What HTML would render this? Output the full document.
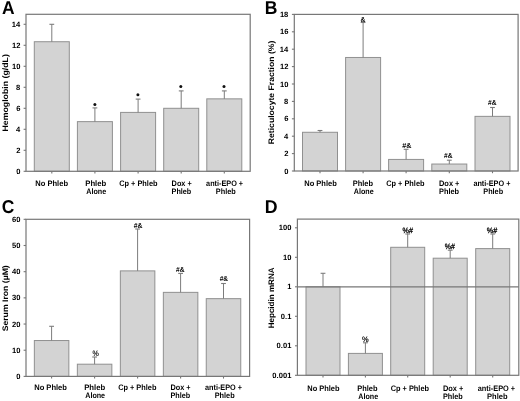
<!DOCTYPE html><html><head><meta charset="utf-8"><style>html,body{margin:0;padding:0;background:#fff;overflow:hidden}svg{display:block;will-change:transform}text{font-family:"Liberation Sans",sans-serif;text-rendering:geometricPrecision}</style></head><body>
<svg width="520" height="401" viewBox="0 0 520 401">
<rect width="520" height="401" fill="#fff"/>
<rect x="34.30" y="41.73" width="35.00" height="129.57" fill="#d3d3d3" stroke="#909090" stroke-width="1"/>
<line x1="51.80" y1="41.73" x2="51.80" y2="24.30" stroke="#7c7c7c" stroke-width="1.0"/>
<line x1="49.40" y1="24.30" x2="54.20" y2="24.30" stroke="#7c7c7c" stroke-width="1.1"/>
<rect x="77.40" y="121.64" width="35.00" height="49.67" fill="#d3d3d3" stroke="#909090" stroke-width="1"/>
<line x1="94.90" y1="121.64" x2="94.90" y2="107.90" stroke="#7c7c7c" stroke-width="1.0"/>
<line x1="92.50" y1="107.90" x2="97.30" y2="107.90" stroke="#7c7c7c" stroke-width="1.1"/>
<rect x="120.60" y="112.40" width="35.00" height="58.91" fill="#d3d3d3" stroke="#909090" stroke-width="1"/>
<line x1="138.10" y1="112.40" x2="138.10" y2="99.10" stroke="#7c7c7c" stroke-width="1.0"/>
<line x1="135.70" y1="99.10" x2="140.50" y2="99.10" stroke="#7c7c7c" stroke-width="1.1"/>
<rect x="163.70" y="108.30" width="35.00" height="63.00" fill="#d3d3d3" stroke="#909090" stroke-width="1"/>
<line x1="181.20" y1="108.30" x2="181.20" y2="90.90" stroke="#7c7c7c" stroke-width="1.0"/>
<line x1="178.80" y1="90.90" x2="183.60" y2="90.90" stroke="#7c7c7c" stroke-width="1.1"/>
<rect x="206.80" y="98.85" width="35.00" height="72.45" fill="#d3d3d3" stroke="#909090" stroke-width="1"/>
<line x1="224.30" y1="98.85" x2="224.30" y2="90.90" stroke="#7c7c7c" stroke-width="1.0"/>
<line x1="221.90" y1="90.90" x2="226.70" y2="90.90" stroke="#7c7c7c" stroke-width="1.1"/>
<rect x="26.00" y="14.30" width="224.20" height="157.00" fill="none" stroke="#777" stroke-width="1.2"/>
<line x1="23.60" y1="171.30" x2="26.00" y2="171.30" stroke="#777" stroke-width="1.1"/>
<text x="16.18" y="173.90" font-size="7.6" font-weight="bold" fill="#000" textLength="4.23" lengthAdjust="spacingAndGlyphs">0</text>
<line x1="23.60" y1="150.30" x2="26.00" y2="150.30" stroke="#777" stroke-width="1.1"/>
<text x="16.18" y="152.90" font-size="7.6" font-weight="bold" fill="#000" textLength="4.23" lengthAdjust="spacingAndGlyphs">2</text>
<line x1="23.60" y1="129.30" x2="26.00" y2="129.30" stroke="#777" stroke-width="1.1"/>
<text x="15.91" y="131.90" font-size="7.6" font-weight="bold" fill="#000" textLength="4.23" lengthAdjust="spacingAndGlyphs">4</text>
<line x1="23.60" y1="108.30" x2="26.00" y2="108.30" stroke="#777" stroke-width="1.1"/>
<text x="16.15" y="110.90" font-size="7.6" font-weight="bold" fill="#000" textLength="4.23" lengthAdjust="spacingAndGlyphs">6</text>
<line x1="23.60" y1="87.30" x2="26.00" y2="87.30" stroke="#777" stroke-width="1.1"/>
<text x="16.11" y="89.90" font-size="7.6" font-weight="bold" fill="#000" textLength="4.23" lengthAdjust="spacingAndGlyphs">8</text>
<line x1="23.60" y1="66.30" x2="26.00" y2="66.30" stroke="#777" stroke-width="1.1"/>
<text x="11.96" y="68.90" font-size="7.6" font-weight="bold" fill="#000" textLength="8.45" lengthAdjust="spacingAndGlyphs">10</text>
<line x1="23.60" y1="45.30" x2="26.00" y2="45.30" stroke="#777" stroke-width="1.1"/>
<text x="11.95" y="47.90" font-size="7.6" font-weight="bold" fill="#000" textLength="8.45" lengthAdjust="spacingAndGlyphs">12</text>
<line x1="23.60" y1="24.30" x2="26.00" y2="24.30" stroke="#777" stroke-width="1.1"/>
<text x="11.69" y="26.90" font-size="7.6" font-weight="bold" fill="#000" textLength="8.45" lengthAdjust="spacingAndGlyphs">14</text>
<line x1="51.80" y1="171.30" x2="51.80" y2="173.50" stroke="#777" stroke-width="1.1"/>
<line x1="94.90" y1="171.30" x2="94.90" y2="173.50" stroke="#777" stroke-width="1.1"/>
<line x1="138.10" y1="171.30" x2="138.10" y2="173.50" stroke="#777" stroke-width="1.1"/>
<line x1="181.20" y1="171.30" x2="181.20" y2="173.50" stroke="#777" stroke-width="1.1"/>
<line x1="224.30" y1="171.30" x2="224.30" y2="173.50" stroke="#777" stroke-width="1.1"/>
<rect x="302.50" y="132.28" width="35.00" height="38.72" fill="#d3d3d3" stroke="#909090" stroke-width="1"/>
<line x1="320.00" y1="132.28" x2="320.00" y2="130.50" stroke="#7c7c7c" stroke-width="1.0"/>
<line x1="317.60" y1="130.50" x2="322.40" y2="130.50" stroke="#7c7c7c" stroke-width="1.1"/>
<rect x="345.60" y="57.47" width="35.00" height="113.53" fill="#d3d3d3" stroke="#909090" stroke-width="1"/>
<line x1="363.10" y1="57.47" x2="363.10" y2="22.50" stroke="#7c7c7c" stroke-width="1.0"/>
<line x1="360.70" y1="22.50" x2="365.50" y2="22.50" stroke="#7c7c7c" stroke-width="1.1"/>
<rect x="388.60" y="159.43" width="35.00" height="11.57" fill="#d3d3d3" stroke="#909090" stroke-width="1"/>
<line x1="406.10" y1="159.43" x2="406.10" y2="149.30" stroke="#7c7c7c" stroke-width="1.0"/>
<line x1="403.70" y1="149.30" x2="408.50" y2="149.30" stroke="#7c7c7c" stroke-width="1.1"/>
<rect x="431.80" y="164.04" width="35.00" height="6.96" fill="#d3d3d3" stroke="#909090" stroke-width="1"/>
<line x1="449.30" y1="164.04" x2="449.30" y2="160.20" stroke="#7c7c7c" stroke-width="1.0"/>
<line x1="446.90" y1="160.20" x2="451.70" y2="160.20" stroke="#7c7c7c" stroke-width="1.1"/>
<rect x="475.00" y="116.36" width="35.00" height="54.64" fill="#d3d3d3" stroke="#909090" stroke-width="1"/>
<line x1="492.50" y1="116.36" x2="492.50" y2="107.50" stroke="#7c7c7c" stroke-width="1.0"/>
<line x1="490.10" y1="107.50" x2="494.90" y2="107.50" stroke="#7c7c7c" stroke-width="1.1"/>
<rect x="294.30" y="14.40" width="223.80" height="156.60" fill="none" stroke="#777" stroke-width="1.2"/>
<line x1="291.90" y1="171.00" x2="294.30" y2="171.00" stroke="#777" stroke-width="1.1"/>
<text x="284.18" y="173.60" font-size="7.6" font-weight="bold" fill="#000" textLength="4.23" lengthAdjust="spacingAndGlyphs">0</text>
<line x1="291.90" y1="153.60" x2="294.30" y2="153.60" stroke="#777" stroke-width="1.1"/>
<text x="284.18" y="156.20" font-size="7.6" font-weight="bold" fill="#000" textLength="4.23" lengthAdjust="spacingAndGlyphs">2</text>
<line x1="291.90" y1="136.20" x2="294.30" y2="136.20" stroke="#777" stroke-width="1.1"/>
<text x="283.91" y="138.80" font-size="7.6" font-weight="bold" fill="#000" textLength="4.23" lengthAdjust="spacingAndGlyphs">4</text>
<line x1="291.90" y1="118.80" x2="294.30" y2="118.80" stroke="#777" stroke-width="1.1"/>
<text x="284.15" y="121.40" font-size="7.6" font-weight="bold" fill="#000" textLength="4.23" lengthAdjust="spacingAndGlyphs">6</text>
<line x1="291.90" y1="101.40" x2="294.30" y2="101.40" stroke="#777" stroke-width="1.1"/>
<text x="284.11" y="104.00" font-size="7.6" font-weight="bold" fill="#000" textLength="4.23" lengthAdjust="spacingAndGlyphs">8</text>
<line x1="291.90" y1="84.00" x2="294.30" y2="84.00" stroke="#777" stroke-width="1.1"/>
<text x="279.96" y="86.60" font-size="7.6" font-weight="bold" fill="#000" textLength="8.45" lengthAdjust="spacingAndGlyphs">10</text>
<line x1="291.90" y1="66.60" x2="294.30" y2="66.60" stroke="#777" stroke-width="1.1"/>
<text x="279.95" y="69.20" font-size="7.6" font-weight="bold" fill="#000" textLength="8.45" lengthAdjust="spacingAndGlyphs">12</text>
<line x1="291.90" y1="49.20" x2="294.30" y2="49.20" stroke="#777" stroke-width="1.1"/>
<text x="279.69" y="51.80" font-size="7.6" font-weight="bold" fill="#000" textLength="8.45" lengthAdjust="spacingAndGlyphs">14</text>
<line x1="291.90" y1="31.80" x2="294.30" y2="31.80" stroke="#777" stroke-width="1.1"/>
<text x="279.92" y="34.40" font-size="7.6" font-weight="bold" fill="#000" textLength="8.45" lengthAdjust="spacingAndGlyphs">16</text>
<line x1="291.90" y1="14.40" x2="294.30" y2="14.40" stroke="#777" stroke-width="1.1"/>
<text x="279.88" y="17.00" font-size="7.6" font-weight="bold" fill="#000" textLength="8.45" lengthAdjust="spacingAndGlyphs">18</text>
<line x1="320.00" y1="171.00" x2="320.00" y2="173.20" stroke="#777" stroke-width="1.1"/>
<line x1="363.10" y1="171.00" x2="363.10" y2="173.20" stroke="#777" stroke-width="1.1"/>
<line x1="406.10" y1="171.00" x2="406.10" y2="173.20" stroke="#777" stroke-width="1.1"/>
<line x1="449.30" y1="171.00" x2="449.30" y2="173.20" stroke="#777" stroke-width="1.1"/>
<line x1="492.50" y1="171.00" x2="492.50" y2="173.20" stroke="#777" stroke-width="1.1"/>
<rect x="34.35" y="340.53" width="34.50" height="35.87" fill="#d3d3d3" stroke="#909090" stroke-width="1"/>
<line x1="51.60" y1="340.53" x2="51.60" y2="326.30" stroke="#7c7c7c" stroke-width="1.0"/>
<line x1="49.20" y1="326.30" x2="54.00" y2="326.30" stroke="#7c7c7c" stroke-width="1.1"/>
<rect x="77.35" y="364.20" width="34.50" height="12.20" fill="#d3d3d3" stroke="#909090" stroke-width="1"/>
<line x1="94.60" y1="364.20" x2="94.60" y2="357.00" stroke="#7c7c7c" stroke-width="1.0"/>
<line x1="92.20" y1="357.00" x2="97.00" y2="357.00" stroke="#7c7c7c" stroke-width="1.1"/>
<rect x="120.35" y="270.89" width="34.50" height="105.51" fill="#d3d3d3" stroke="#909090" stroke-width="1"/>
<line x1="137.60" y1="270.89" x2="137.60" y2="229.00" stroke="#7c7c7c" stroke-width="1.0"/>
<line x1="135.20" y1="229.00" x2="140.00" y2="229.00" stroke="#7c7c7c" stroke-width="1.1"/>
<rect x="163.35" y="292.36" width="34.50" height="84.04" fill="#d3d3d3" stroke="#909090" stroke-width="1"/>
<line x1="180.60" y1="292.36" x2="180.60" y2="273.40" stroke="#7c7c7c" stroke-width="1.0"/>
<line x1="178.20" y1="273.40" x2="183.00" y2="273.40" stroke="#7c7c7c" stroke-width="1.1"/>
<rect x="206.25" y="298.65" width="34.50" height="77.75" fill="#d3d3d3" stroke="#909090" stroke-width="1"/>
<line x1="223.50" y1="298.65" x2="223.50" y2="283.50" stroke="#7c7c7c" stroke-width="1.0"/>
<line x1="221.10" y1="283.50" x2="225.90" y2="283.50" stroke="#7c7c7c" stroke-width="1.1"/>
<rect x="26.00" y="219.30" width="223.60" height="157.10" fill="none" stroke="#777" stroke-width="1.2"/>
<line x1="23.60" y1="376.40" x2="26.00" y2="376.40" stroke="#777" stroke-width="1.1"/>
<text x="16.18" y="379.00" font-size="7.6" font-weight="bold" fill="#000" textLength="4.23" lengthAdjust="spacingAndGlyphs">0</text>
<line x1="23.60" y1="350.22" x2="26.00" y2="350.22" stroke="#777" stroke-width="1.1"/>
<text x="11.96" y="352.82" font-size="7.6" font-weight="bold" fill="#000" textLength="8.45" lengthAdjust="spacingAndGlyphs">10</text>
<line x1="23.60" y1="324.04" x2="26.00" y2="324.04" stroke="#777" stroke-width="1.1"/>
<text x="11.96" y="326.64" font-size="7.6" font-weight="bold" fill="#000" textLength="8.45" lengthAdjust="spacingAndGlyphs">20</text>
<line x1="23.60" y1="297.86" x2="26.00" y2="297.86" stroke="#777" stroke-width="1.1"/>
<text x="11.96" y="300.46" font-size="7.6" font-weight="bold" fill="#000" textLength="8.45" lengthAdjust="spacingAndGlyphs">30</text>
<line x1="23.60" y1="271.68" x2="26.00" y2="271.68" stroke="#777" stroke-width="1.1"/>
<text x="11.96" y="274.28" font-size="7.6" font-weight="bold" fill="#000" textLength="8.45" lengthAdjust="spacingAndGlyphs">40</text>
<line x1="23.60" y1="245.50" x2="26.00" y2="245.50" stroke="#777" stroke-width="1.1"/>
<text x="11.96" y="248.10" font-size="7.6" font-weight="bold" fill="#000" textLength="8.45" lengthAdjust="spacingAndGlyphs">50</text>
<line x1="23.60" y1="219.32" x2="26.00" y2="219.32" stroke="#777" stroke-width="1.1"/>
<text x="11.96" y="221.92" font-size="7.6" font-weight="bold" fill="#000" textLength="8.45" lengthAdjust="spacingAndGlyphs">60</text>
<line x1="51.60" y1="376.40" x2="51.60" y2="378.60" stroke="#777" stroke-width="1.1"/>
<line x1="94.60" y1="376.40" x2="94.60" y2="378.60" stroke="#777" stroke-width="1.1"/>
<line x1="137.60" y1="376.40" x2="137.60" y2="378.60" stroke="#777" stroke-width="1.1"/>
<line x1="180.60" y1="376.40" x2="180.60" y2="378.60" stroke="#777" stroke-width="1.1"/>
<line x1="223.50" y1="376.40" x2="223.50" y2="378.60" stroke="#777" stroke-width="1.1"/>
<rect x="306.00" y="286.80" width="34.00" height="88.50" fill="#d3d3d3" stroke="#909090" stroke-width="1"/>
<line x1="323.00" y1="286.80" x2="323.00" y2="273.30" stroke="#7c7c7c" stroke-width="1.0"/>
<line x1="320.60" y1="273.30" x2="325.40" y2="273.30" stroke="#7c7c7c" stroke-width="1.1"/>
<rect x="348.40" y="353.40" width="34.00" height="21.90" fill="#d3d3d3" stroke="#909090" stroke-width="1"/>
<line x1="365.40" y1="353.40" x2="365.40" y2="342.80" stroke="#7c7c7c" stroke-width="1.0"/>
<line x1="363.00" y1="342.80" x2="367.80" y2="342.80" stroke="#7c7c7c" stroke-width="1.1"/>
<rect x="390.70" y="247.30" width="34.00" height="128.00" fill="#d3d3d3" stroke="#909090" stroke-width="1"/>
<line x1="407.70" y1="247.30" x2="407.70" y2="234.00" stroke="#7c7c7c" stroke-width="1.0"/>
<line x1="405.30" y1="234.00" x2="410.10" y2="234.00" stroke="#7c7c7c" stroke-width="1.1"/>
<rect x="433.20" y="258.20" width="34.00" height="117.10" fill="#d3d3d3" stroke="#909090" stroke-width="1"/>
<line x1="450.20" y1="258.20" x2="450.20" y2="250.20" stroke="#7c7c7c" stroke-width="1.0"/>
<line x1="447.80" y1="250.20" x2="452.60" y2="250.20" stroke="#7c7c7c" stroke-width="1.1"/>
<rect x="475.70" y="248.60" width="34.00" height="126.70" fill="#d3d3d3" stroke="#909090" stroke-width="1"/>
<line x1="492.70" y1="248.60" x2="492.70" y2="234.00" stroke="#7c7c7c" stroke-width="1.0"/>
<line x1="490.30" y1="234.00" x2="495.10" y2="234.00" stroke="#7c7c7c" stroke-width="1.1"/>
<line x1="297.40" y1="286.80" x2="518.80" y2="286.80" stroke="#777" stroke-width="1.2"/>
<rect x="297.40" y="219.10" width="221.40" height="156.20" fill="none" stroke="#777" stroke-width="1.2"/>
<line x1="295.00" y1="375.30" x2="297.40" y2="375.30" stroke="#777" stroke-width="1.1"/>
<text x="272.39" y="377.90" font-size="7.6" font-weight="bold" fill="#000" textLength="19.02" lengthAdjust="spacingAndGlyphs">0.001</text>
<line x1="295.00" y1="345.80" x2="297.40" y2="345.80" stroke="#777" stroke-width="1.1"/>
<text x="276.62" y="348.40" font-size="7.6" font-weight="bold" fill="#000" textLength="14.79" lengthAdjust="spacingAndGlyphs">0.01</text>
<line x1="295.00" y1="316.30" x2="297.40" y2="316.30" stroke="#777" stroke-width="1.1"/>
<text x="280.85" y="318.90" font-size="7.6" font-weight="bold" fill="#000" textLength="10.57" lengthAdjust="spacingAndGlyphs">0.1</text>
<line x1="295.00" y1="286.80" x2="297.40" y2="286.80" stroke="#777" stroke-width="1.1"/>
<text x="287.18" y="289.40" font-size="7.6" font-weight="bold" fill="#000" textLength="4.23" lengthAdjust="spacingAndGlyphs">1</text>
<line x1="295.00" y1="257.30" x2="297.40" y2="257.30" stroke="#777" stroke-width="1.1"/>
<text x="283.06" y="259.90" font-size="7.6" font-weight="bold" fill="#000" textLength="8.45" lengthAdjust="spacingAndGlyphs">10</text>
<line x1="295.00" y1="227.80" x2="297.40" y2="227.80" stroke="#777" stroke-width="1.1"/>
<text x="278.83" y="230.40" font-size="7.6" font-weight="bold" fill="#000" textLength="12.68" lengthAdjust="spacingAndGlyphs">100</text>
<line x1="323.00" y1="375.30" x2="323.00" y2="377.50" stroke="#777" stroke-width="1.1"/>
<line x1="365.40" y1="375.30" x2="365.40" y2="377.50" stroke="#777" stroke-width="1.1"/>
<line x1="407.70" y1="375.30" x2="407.70" y2="377.50" stroke="#777" stroke-width="1.1"/>
<line x1="450.20" y1="375.30" x2="450.20" y2="377.50" stroke="#777" stroke-width="1.1"/>
<line x1="492.70" y1="375.30" x2="492.70" y2="377.50" stroke="#777" stroke-width="1.1"/>
<text x="1.97" y="14.00" font-size="18.5" font-weight="bold" fill="#000" textLength="12.59" lengthAdjust="spacingAndGlyphs">A</text>
<text x="264.83" y="13.80" font-size="18.5" font-weight="bold" fill="#000" textLength="12.67" lengthAdjust="spacingAndGlyphs">B</text>
<text x="1.78" y="212.50" font-size="18.5" font-weight="bold" fill="#000" textLength="12.59" lengthAdjust="spacingAndGlyphs">C</text>
<text x="264.71" y="213.10" font-size="18.5" font-weight="bold" fill="#000" textLength="12.84" lengthAdjust="spacingAndGlyphs">D</text>
<text transform="translate(7.90,131.00) rotate(-90)" x="-0.59" y="0" font-size="8.0" font-weight="bold" textLength="77.42" lengthAdjust="spacingAndGlyphs">Hemoglobin (g/dL)</text>
<text transform="translate(273.60,143.60) rotate(-90)" x="-0.58" y="0" font-size="8.0" font-weight="bold" textLength="103.51" lengthAdjust="spacingAndGlyphs">Reticulocyte Fraction (%)</text>
<text transform="translate(7.90,331.10) rotate(-90)" x="-0.25" y="0" font-size="8.0" font-weight="bold" textLength="66.08" lengthAdjust="spacingAndGlyphs">Serum Iron (µM)</text>
<text transform="translate(274.20,327.80) rotate(-90)" x="-0.54" y="0" font-size="8.0" font-weight="bold" textLength="60.85" lengthAdjust="spacingAndGlyphs">Hepcidin mRNA</text>
<text x="35.29" y="185.60" font-size="8.0" font-weight="bold" fill="#000" textLength="32.71" lengthAdjust="spacingAndGlyphs">No Phleb</text>
<text x="85.28" y="185.60" font-size="8.0" font-weight="bold" fill="#000" textLength="20.98" lengthAdjust="spacingAndGlyphs">Phleb</text>
<text x="86.37" y="194.00" font-size="8.0" font-weight="bold" fill="#000" textLength="19.82" lengthAdjust="spacingAndGlyphs">Alone</text>
<text x="119.25" y="185.60" font-size="8.0" font-weight="bold" fill="#000" textLength="38.25" lengthAdjust="spacingAndGlyphs">Cp + Phleb</text>
<text x="171.61" y="185.60" font-size="8.0" font-weight="bold" fill="#000" textLength="20.08" lengthAdjust="spacingAndGlyphs">Dox +</text>
<text x="171.62" y="194.00" font-size="8.0" font-weight="bold" fill="#000" textLength="19.63" lengthAdjust="spacingAndGlyphs">Phleb</text>
<text x="206.09" y="185.60" font-size="8.0" font-weight="bold" fill="#000" textLength="37.01" lengthAdjust="spacingAndGlyphs">anti-EPO +</text>
<text x="215.81" y="194.00" font-size="8.0" font-weight="bold" fill="#000" textLength="19.89" lengthAdjust="spacingAndGlyphs">Phleb</text>
<text x="34.19" y="390.00" font-size="8.0" font-weight="bold" fill="#000" textLength="32.71" lengthAdjust="spacingAndGlyphs">No Phleb</text>
<text x="84.18" y="390.00" font-size="8.0" font-weight="bold" fill="#000" textLength="20.98" lengthAdjust="spacingAndGlyphs">Phleb</text>
<text x="85.27" y="398.40" font-size="8.0" font-weight="bold" fill="#000" textLength="19.82" lengthAdjust="spacingAndGlyphs">Alone</text>
<text x="118.15" y="390.00" font-size="8.0" font-weight="bold" fill="#000" textLength="38.25" lengthAdjust="spacingAndGlyphs">Cp + Phleb</text>
<text x="170.51" y="390.00" font-size="8.0" font-weight="bold" fill="#000" textLength="20.08" lengthAdjust="spacingAndGlyphs">Dox +</text>
<text x="170.52" y="398.40" font-size="8.0" font-weight="bold" fill="#000" textLength="19.63" lengthAdjust="spacingAndGlyphs">Phleb</text>
<text x="204.99" y="390.00" font-size="8.0" font-weight="bold" fill="#000" textLength="37.01" lengthAdjust="spacingAndGlyphs">anti-EPO +</text>
<text x="214.71" y="398.40" font-size="8.0" font-weight="bold" fill="#000" textLength="19.89" lengthAdjust="spacingAndGlyphs">Phleb</text>
<text x="304.30" y="185.80" font-size="8.0" font-weight="bold" fill="#000" textLength="32.46" lengthAdjust="spacingAndGlyphs">No Phleb</text>
<text x="352.80" y="185.80" font-size="8.0" font-weight="bold" fill="#000" textLength="20.20" lengthAdjust="spacingAndGlyphs">Phleb</text>
<text x="353.87" y="194.20" font-size="8.0" font-weight="bold" fill="#000" textLength="19.82" lengthAdjust="spacingAndGlyphs">Alone</text>
<text x="386.25" y="185.80" font-size="8.0" font-weight="bold" fill="#000" textLength="38.25" lengthAdjust="spacingAndGlyphs">Cp + Phleb</text>
<text x="439.00" y="185.80" font-size="8.0" font-weight="bold" fill="#000" textLength="20.40" lengthAdjust="spacingAndGlyphs">Dox +</text>
<text x="439.01" y="194.20" font-size="8.0" font-weight="bold" fill="#000" textLength="19.99" lengthAdjust="spacingAndGlyphs">Phleb</text>
<text x="473.39" y="185.80" font-size="8.0" font-weight="bold" fill="#000" textLength="37.01" lengthAdjust="spacingAndGlyphs">anti-EPO +</text>
<text x="483.31" y="194.20" font-size="8.0" font-weight="bold" fill="#000" textLength="19.78" lengthAdjust="spacingAndGlyphs">Phleb</text>
<text x="307.30" y="390.60" font-size="8.0" font-weight="bold" fill="#000" textLength="32.20" lengthAdjust="spacingAndGlyphs">No Phleb</text>
<text x="357.30" y="390.60" font-size="8.0" font-weight="bold" fill="#000" textLength="20.20" lengthAdjust="spacingAndGlyphs">Phleb</text>
<text x="358.37" y="399.00" font-size="8.0" font-weight="bold" fill="#000" textLength="19.82" lengthAdjust="spacingAndGlyphs">Alone</text>
<text x="390.75" y="390.60" font-size="8.0" font-weight="bold" fill="#000" textLength="38.25" lengthAdjust="spacingAndGlyphs">Cp + Phleb</text>
<text x="442.90" y="390.60" font-size="8.0" font-weight="bold" fill="#000" textLength="20.40" lengthAdjust="spacingAndGlyphs">Dox +</text>
<text x="442.91" y="399.00" font-size="8.0" font-weight="bold" fill="#000" textLength="19.78" lengthAdjust="spacingAndGlyphs">Phleb</text>
<text x="477.78" y="390.60" font-size="8.0" font-weight="bold" fill="#000" textLength="37.41" lengthAdjust="spacingAndGlyphs">anti-EPO +</text>
<text x="487.10" y="399.00" font-size="8.0" font-weight="bold" fill="#000" textLength="20.41" lengthAdjust="spacingAndGlyphs">Phleb</text>
<circle cx="94.90" cy="104.60" r="1.5" fill="#111"/>
<circle cx="137.90" cy="94.70" r="1.5" fill="#111"/>
<circle cx="180.80" cy="86.50" r="1.5" fill="#111"/>
<circle cx="224.00" cy="86.50" r="1.5" fill="#111"/>
<text x="360.50" y="22.00" font-size="7.3" font-weight="bold" fill="#000" textLength="4.91" lengthAdjust="spacingAndGlyphs">&amp;</text>
<text x="402.18" y="148.00" font-size="7.3" font-weight="bold" fill="#000" textLength="9.15" lengthAdjust="spacingAndGlyphs">#&amp;</text>
<text x="443.99" y="157.50" font-size="7.3" font-weight="bold" fill="#000" textLength="8.42" lengthAdjust="spacingAndGlyphs">#&amp;</text>
<text x="487.99" y="105.20" font-size="7.3" font-weight="bold" fill="#000" textLength="8.42" lengthAdjust="spacingAndGlyphs">#&amp;</text>
<text x="92.45" y="356.00" font-size="7.8" font-weight="normal" fill="#000" stroke="#000" stroke-width="0.15" textLength="6.31" lengthAdjust="spacingAndGlyphs">%</text>
<text x="133.68" y="228.30" font-size="7.3" font-weight="bold" fill="#000" textLength="8.73" lengthAdjust="spacingAndGlyphs">#&amp;</text>
<text x="175.99" y="271.50" font-size="7.3" font-weight="bold" fill="#000" textLength="8.42" lengthAdjust="spacingAndGlyphs">#&amp;</text>
<text x="219.69" y="281.30" font-size="7.3" font-weight="bold" fill="#000" textLength="8.42" lengthAdjust="spacingAndGlyphs">#&amp;</text>
<text x="361.93" y="341.60" font-size="7.8" font-weight="normal" fill="#000" stroke="#000" stroke-width="0.2" textLength="6.63" lengthAdjust="spacingAndGlyphs">%</text>
<text x="402.54" y="232.50" font-size="7.8" font-weight="normal" fill="#000" stroke="#000" stroke-width="0.3" textLength="10.39" lengthAdjust="spacingAndGlyphs">%#</text>
<text x="444.85" y="248.60" font-size="7.8" font-weight="normal" fill="#000" stroke="#000" stroke-width="0.3" textLength="10.08" lengthAdjust="spacingAndGlyphs">%#</text>
<text x="486.84" y="232.80" font-size="7.8" font-weight="normal" fill="#000" stroke="#000" stroke-width="0.3" textLength="10.39" lengthAdjust="spacingAndGlyphs">%#</text>
</svg></body></html>
